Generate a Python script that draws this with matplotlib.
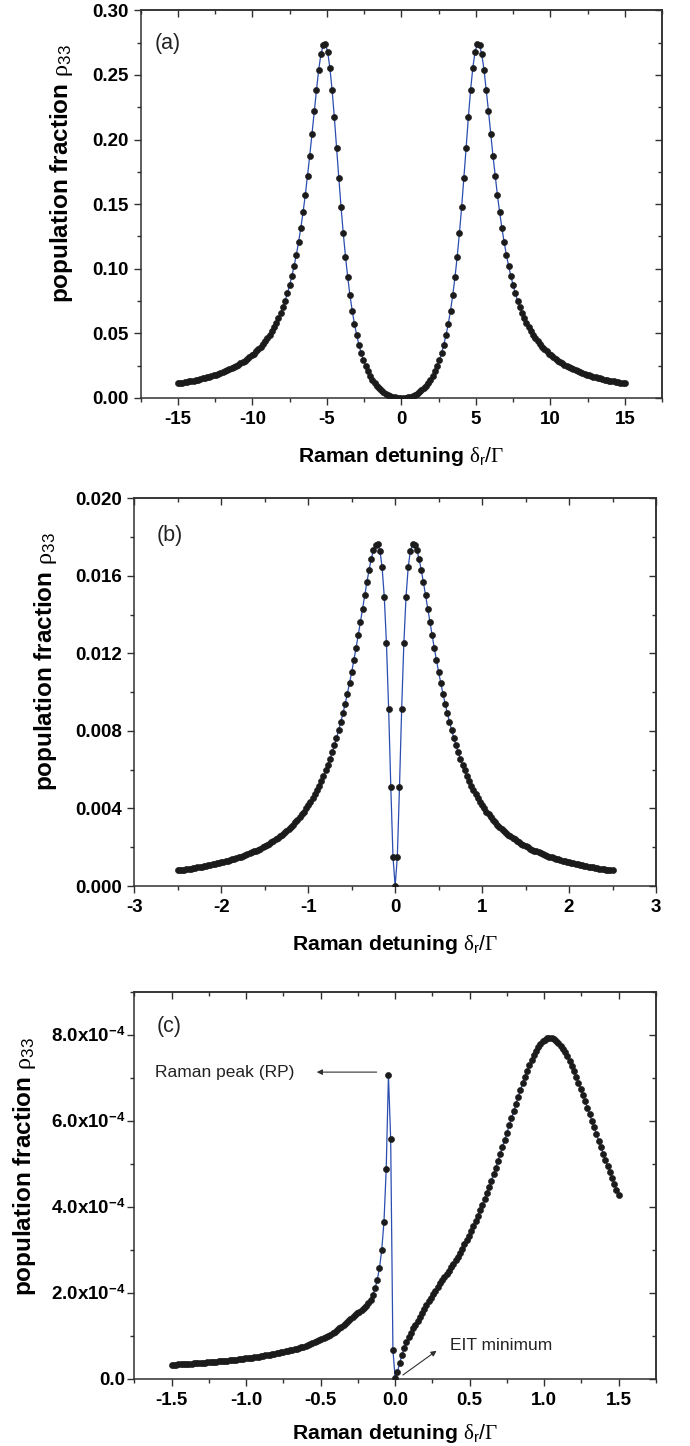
import numpy as np
import matplotlib
matplotlib.use("Agg")
import matplotlib.pyplot as plt
from matplotlib.ticker import MultipleLocator

plt.rcParams.update({
    "font.family": ["Liberation Sans", "DejaVu Sans"],
    "mathtext.fontset": "custom",
    "mathtext.rm": "Liberation Serif",
    "mathtext.sf": "Liberation Sans",
    "mathtext.bf": "Liberation Sans:bold",
    "mathtext.it": "Liberation Serif:italic",
    "axes.unicode_minus": False,
})

# ---------------- data ----------------
# (a) Raman detuning grid -15 ... 15 (201 samples)
x_a = np.linspace(-15, 15, 201)
rho_a_neg = [0.0113, 0.0116, 0.0119, 0.0122, 0.0125, 0.0128, 0.0132, 0.0135, 0.0139, 0.0143,
             0.0147, 0.0151, 0.0156, 0.0160, 0.0165, 0.0170, 0.0175, 0.0181, 0.0187, 0.0193,
             0.0199, 0.0206, 0.0213, 0.0221, 0.0229, 0.0238, 0.0247, 0.0256, 0.0267, 0.0277,
             0.0289, 0.0301, 0.0314, 0.0329, 0.0344, 0.0360, 0.0377, 0.0396, 0.0417, 0.0439,
             0.0463, 0.0489, 0.0517, 0.0548, 0.0581, 0.0618, 0.0659, 0.0704, 0.0753, 0.0810,
             0.0875, 0.0944, 0.1022, 0.1109, 0.1207, 0.1316, 0.1437, 0.1570, 0.1720, 0.1875,
             0.2046, 0.2220, 0.2380, 0.2540, 0.2660, 0.2730, 0.2740, 0.2680, 0.2557, 0.2384,
             0.2173, 0.1937, 0.1705, 0.1480, 0.1276, 0.1094, 0.0934, 0.0795, 0.0676, 0.0573,
             0.0488, 0.0412, 0.0348, 0.0293, 0.0246, 0.0206, 0.0172, 0.0142, 0.0116, 0.0094,
             0.0075, 0.0059, 0.0046, 0.0034, 0.0025, 0.0017, 0.0011, 0.0006, 0.0003, 0.0001]
rho_a_pos = [0.0000, 0.0001, 0.0003, 0.0006, 0.0011, 0.0017, 0.0025, 0.0034, 0.0046, 0.0059,
             0.0075, 0.0094, 0.0116, 0.0142, 0.0172, 0.0206, 0.0246, 0.0293, 0.0348, 0.0412,
             0.0488, 0.0573, 0.0676, 0.0795, 0.0934, 0.1094, 0.1276, 0.1480, 0.1705, 0.1937,
             0.2173, 0.2384, 0.2557, 0.2680, 0.2740, 0.2730, 0.2660, 0.2540, 0.2380, 0.2220,
             0.2046, 0.1875, 0.1720, 0.1570, 0.1437, 0.1316, 0.1207, 0.1109, 0.1022, 0.0944,
             0.0875, 0.0810, 0.0753, 0.0704, 0.0659, 0.0618, 0.0581, 0.0548, 0.0517, 0.0489,
             0.0463, 0.0439, 0.0417, 0.0396, 0.0377, 0.0360, 0.0344, 0.0329, 0.0314, 0.0301,
             0.0289, 0.0277, 0.0267, 0.0256, 0.0247, 0.0238, 0.0229, 0.0221, 0.0213, 0.0206,
             0.0199, 0.0193, 0.0187, 0.0181, 0.0175, 0.0170, 0.0165, 0.0160, 0.0156, 0.0151,
             0.0147, 0.0143, 0.0139, 0.0135, 0.0132, 0.0128, 0.0125, 0.0122, 0.0119, 0.0116,
             0.0113]

# (b) Raman detuning grid -2.5 ... 2.5 (201 samples)
x_b = np.linspace(-2.5, 2.5, 201)
rho_b_neg = [0.00080, 0.00082, 0.00084, 0.00085, 0.00087, 0.00089, 0.00090, 0.00092, 0.00094, 0.00096,
             0.00098, 0.00100, 0.00102, 0.00104, 0.00107, 0.00109, 0.00111, 0.00114, 0.00117, 0.00119,
             0.00122, 0.00125, 0.00128, 0.00131, 0.00134, 0.00138, 0.00141, 0.00144, 0.00148, 0.00152,
             0.00155, 0.00159, 0.00164, 0.00168, 0.00173, 0.00178, 0.00183, 0.00188, 0.00193, 0.00199,
             0.00205, 0.00212, 0.00218, 0.00225, 0.00233, 0.00240, 0.00248, 0.00257, 0.00265, 0.00274,
             0.00284, 0.00294, 0.00305, 0.00317, 0.00329, 0.00341, 0.00355, 0.00369, 0.00384, 0.00400,
             0.00417, 0.00435, 0.00454, 0.00474, 0.00496, 0.00518, 0.00543, 0.00568, 0.00596, 0.00625,
             0.00656, 0.00689, 0.00725, 0.00763, 0.00803, 0.00846, 0.00891, 0.00940, 0.00991, 0.01046,
             0.01103, 0.01164, 0.01227, 0.01293, 0.01361, 0.01430, 0.01499, 0.01567, 0.01630, 0.01687,
             0.01732, 0.01760, 0.01762, 0.01729, 0.01644, 0.01491, 0.01251, 0.00914, 0.00512, 0.00151]
rho_b_pos = [0.00000, 0.00151, 0.00512, 0.00914, 0.01251, 0.01491, 0.01644, 0.01729, 0.01762, 0.01760,
             0.01732, 0.01687, 0.01630, 0.01567, 0.01499, 0.01430, 0.01361, 0.01293, 0.01227, 0.01164,
             0.01103, 0.01046, 0.00991, 0.00940, 0.00891, 0.00846, 0.00803, 0.00763, 0.00725, 0.00689,
             0.00656, 0.00625, 0.00596, 0.00568, 0.00543, 0.00518, 0.00496, 0.00474, 0.00454, 0.00435,
             0.00417, 0.00400, 0.00384, 0.00369, 0.00355, 0.00341, 0.00329, 0.00317, 0.00305, 0.00294,
             0.00284, 0.00274, 0.00265, 0.00257, 0.00248, 0.00240, 0.00233, 0.00225, 0.00218, 0.00212,
             0.00205, 0.00199, 0.00193, 0.00188, 0.00183, 0.00178, 0.00173, 0.00168, 0.00164, 0.00159,
             0.00155, 0.00152, 0.00148, 0.00144, 0.00141, 0.00138, 0.00134, 0.00131, 0.00128, 0.00125,
             0.00122, 0.00119, 0.00117, 0.00114, 0.00111, 0.00109, 0.00107, 0.00104, 0.00102, 0.00100,
             0.00098, 0.00096, 0.00094, 0.00092, 0.00090, 0.00089, 0.00087, 0.00085, 0.00084, 0.00082,
             0.00080]

# (c) Raman detuning grid -1.5 ... 1.5 (201 samples), values in units of 1e-4
x_c = np.linspace(-1.5, 1.5, 201)
rho_c_neg = [0.321, 0.324, 0.327, 0.331, 0.334, 0.337, 0.341, 0.344, 0.348, 0.352,
             0.355, 0.359, 0.363, 0.367, 0.371, 0.376, 0.380, 0.384, 0.389, 0.393,
             0.398, 0.403, 0.408, 0.413, 0.418, 0.423, 0.429, 0.435, 0.440, 0.446,
             0.452, 0.459, 0.465, 0.472, 0.478, 0.485, 0.493, 0.500, 0.508, 0.516,
             0.524, 0.532, 0.541, 0.550, 0.559, 0.569, 0.579, 0.589, 0.600, 0.611,
             0.622, 0.634, 0.646, 0.659, 0.673, 0.686, 0.701, 0.716, 0.732, 0.748,
             0.766, 0.784, 0.803, 0.823, 0.844, 0.866, 0.889, 0.913, 0.939, 0.966,
             0.996, 1.026, 1.059, 1.094, 1.13, 1.17, 1.21, 1.25, 1.30, 1.35,
             1.40, 1.44, 1.48, 1.52, 1.56, 1.60, 1.65, 1.70, 1.76, 1.84,
             1.95, 2.10, 2.30, 2.58, 2.99, 3.65, 4.87, 7.06, 5.57, 0.67]
rho_c_pos = [0.02, 0.15, 0.36, 0.55, 0.72, 0.85, 0.97, 1.07, 1.17, 1.26,
             1.35, 1.44, 1.53, 1.62, 1.71, 1.80, 1.88, 1.97, 2.05, 2.14,
             2.229, 2.296, 2.365, 2.437, 2.512, 2.589, 2.670, 2.754, 2.841, 2.932,
             3.026, 3.124, 3.225, 3.330, 3.439, 3.553, 3.670, 3.792, 3.917, 4.047,
             4.181, 4.319, 4.462, 4.608, 4.758, 4.911, 5.069, 5.229, 5.392, 5.557,
             5.723, 5.890, 6.058, 6.225, 6.391, 6.554, 6.714, 6.868, 7.017, 7.159,
             7.292, 7.415, 7.528, 7.628, 7.715, 7.788, 7.845, 7.886, 7.912, 7.920,
             7.913, 7.892, 7.857, 7.809, 7.748, 7.674, 7.589, 7.494, 7.388, 7.273,
             7.151, 7.021, 6.885, 6.744, 6.599, 6.451, 6.301, 6.149, 5.995, 5.842,
             5.689, 5.537, 5.386, 5.237, 5.091, 4.947, 4.805, 4.667, 4.531, 4.399,
             4.270]

rho_a = np.array(rho_a_neg + rho_a_pos)
rho_b = np.array(rho_b_neg + rho_b_pos)
rho_c = np.array(rho_c_neg + rho_c_pos) * 1e-4

# tick positions / labels
xt_a = [-15, -10, -5, 0, 5, 10, 15]
xtl_a = ["-15", "-10", "-5", "0", "5", "10", "15"]
yt_a = [0.0, 0.05, 0.10, 0.15, 0.20, 0.25, 0.30]
ytl_a = ["0.00", "0.05", "0.10", "0.15", "0.20", "0.25", "0.30"]

xt_b = [-3, -2, -1, 0, 1, 2, 3]
xtl_b = ["-3", "-2", "-1", "0", "1", "2", "3"]
yt_b = [0.0, 0.004, 0.008, 0.012, 0.016, 0.020]
ytl_b = ["0.000", "0.004", "0.008", "0.012", "0.016", "0.020"]

xt_c = [-1.5, -1.0, -0.5, 0.0, 0.5, 1.0, 1.5]
xtl_c = ["-1.5", "-1.0", "-0.5", "0.0", "0.5", "1.0", "1.5"]
yt_c = [0.0, 2e-4, 4e-4, 6e-4, 8e-4]
ytl_c = ["0.0", r"2.0x10$^{\mathbf{-4}}$", r"4.0x10$^{\mathbf{-4}}$",
         r"6.0x10$^{\mathbf{-4}}$", r"8.0x10$^{\mathbf{-4}}$"]

# ---------------- figure ----------------
W, H = 690, 1446
fig = plt.figure(figsize=(W / 100, H / 100), dpi=100)


def rect(l, r, t, b):
    return [l / W, 1 - b / H, (r - l) / W, (b - t) / H]


LINE_C = "#2a4db0"
DOT_C = "#1b1b1b"
SP_C = "#303030"
TICK_FS = 13.5
XLAB = r"Raman detuning $\mathrm{\delta}_{\mathsf{r}}\mathsf{/}\mathrm{\Gamma}$"
YLAB = r"population fraction $\mathrm{\rho}_{\mathsf{33}}$"


def make_panel(r, x, y, xlim, ylim, xt, xtl, xminor, yt, ytl, yminor,
               ylab_xy, xlab_y, tag, tag_xy, ypad=3.5):
    ax = fig.add_axes(r)
    ax.plot(x, y, color=LINE_C, lw=0.9, marker="o", ms=4.4,
            mfc=DOT_C, mec=DOT_C, mew=0.4, zorder=3)
    ax.set_xlim(*xlim)
    ax.set_ylim(*ylim)
    ax.set_xticks(xt)
    ax.set_xticklabels(xtl, fontsize=TICK_FS, fontweight="bold")
    ax.set_yticks(yt)
    ax.set_yticklabels(ytl, fontsize=TICK_FS, fontweight="bold")
    ax.xaxis.set_minor_locator(MultipleLocator(xminor))
    ax.yaxis.set_minor_locator(MultipleLocator(yminor))
    ax.tick_params(which="both", direction="out", color=SP_C, width=1.0,
                   top=False, right=False)
    ax.tick_params(which="major", length=5.0)
    ax.tick_params(which="minor", length=3.0)
    ax.tick_params(axis="x", pad=4.5)
    ax.tick_params(axis="y", pad=ypad)
    for s in ax.spines.values():
        s.set_linewidth(1.1)
        s.set_color(SP_C)
    # inward ticks on the opposite (top / right) axes
    sx = ax.secondary_xaxis("top")
    sx.set_xticks(xt)
    sx.xaxis.set_minor_locator(MultipleLocator(xminor))
    sx.tick_params(which="both", direction="in", color=SP_C, width=1.0,
                   labeltop=False, labelbottom=False)
    sx.tick_params(which="major", length=5.0)
    sx.tick_params(which="minor", length=3.0)
    sx.spines["top"].set_linewidth(1.1)
    sx.spines["top"].set_color(SP_C)
    sy = ax.secondary_yaxis("right")
    sy.set_yticks(yt)
    sy.yaxis.set_minor_locator(MultipleLocator(yminor))
    sy.tick_params(which="both", direction="in", color=SP_C, width=1.0,
                   labelright=False, labelleft=False)
    sy.tick_params(which="major", length=5.0)
    sy.tick_params(which="minor", length=3.0)
    sy.spines["right"].set_linewidth(1.1)
    sy.spines["right"].set_color(SP_C)

    ax.set_xlabel(XLAB, fontsize=15.2, fontweight="bold", va="center")
    ax.xaxis.set_label_coords(0.5, xlab_y)
    ax.set_ylabel(YLAB, fontsize=17.5, fontweight="bold", va="center")
    ax.yaxis.set_label_coords(*ylab_xy)
    ax.text(tag_xy[0], tag_xy[1], tag, transform=ax.transAxes,
            fontsize=15.5, ha="left", va="center", color="#222222")
    return ax


ax_a = make_panel(rect(140.7, 662, 10.3, 398), x_a, rho_a, (-17.5, 17.5), (0, 0.30),
                  xt_a, xtl_a, 2.5, yt_a, ytl_a, 0.025,
                  (-0.152, 0.578), -0.150, "(a)", (0.027, 0.915))
ax_b = make_panel(rect(134.3, 656, 498.3, 886), x_b, rho_b, (-3, 3), (0, 0.020),
                  xt_b, xtl_b, 0.5, yt_b, ytl_b, 0.002,
                  (-0.170, 0.579), -0.152, "(b)", (0.043, 0.903))
ax_c = make_panel(rect(134.3, 656, 991.7, 1378.7), x_c, rho_c, (-1.75, 1.75), (0, 9e-4),
                  xt_c, xtl_c, 0.25, yt_c, ytl_c, 1e-4,
                  (-0.210, 0.548), -0.142, "(c)", (0.043, 0.909), ypad=1.5)

# annotations in panel (c)
arrow_kw = dict(arrowstyle="-|>", color="#303030", lw=0.8, mutation_scale=8,
                shrinkA=0, shrinkB=0)
ax_c.annotate("", xy=(-0.526, 7.13e-4), xytext=(-0.124, 7.13e-4), arrowprops=arrow_kw)
ax_c.text(-1.61, 7.13e-4, "Raman peak (RP)", fontsize=12.5, ha="left", va="center",
          color="#222222")
ax_c.annotate("", xy=(0.278, 0.65e-4), xytext=(0.052, 0.086e-4), arrowprops=arrow_kw)
ax_c.text(0.371, 0.78e-4, "EIT minimum", fontsize=12.5, ha="left", va="center",
          color="#222222")

fig.savefig("out.png", dpi=100)
